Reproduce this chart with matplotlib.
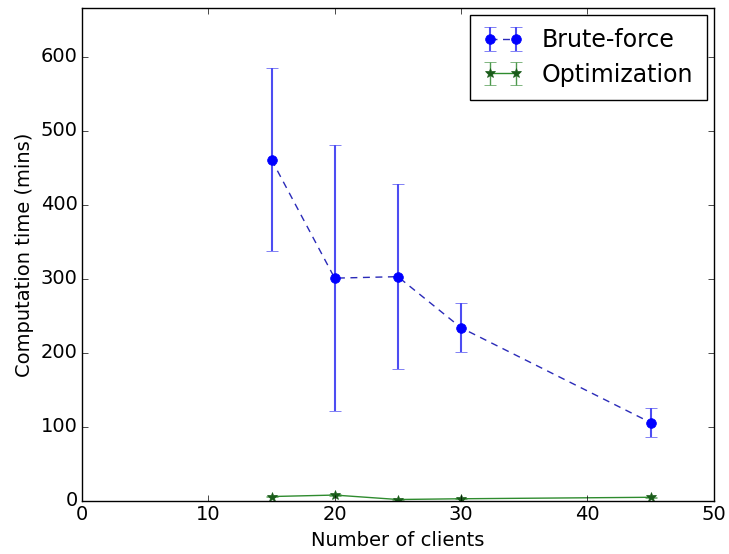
import numpy as np
import matplotlib
matplotlib.use('Agg')
from matplotlib import pyplot as plt

plt.style.use('classic')

clients = [15, 20, 25, 30, 45]
brute_mean = [461, 301, 303, 234, 106]
brute_err = [124, 180, 125, 33, 20]
opt_mean = [6, 8, 2, 3, 5]
opt_err = [1, 1, 0.5, 0.5, 0.5]

fig = plt.figure(figsize=(7.29, 5.54), dpi=100)
ax = fig.add_axes([0.1125, 0.0957, 0.8665, 0.89])

ax.errorbar(clients, brute_mean, yerr=brute_err, fmt='o--', color='#2a2ab8',
            markerfacecolor='b', markeredgecolor='b', dashes=(5, 4),
            ecolor=(0.3, 0.3, 0.95), elinewidth=1.5, capsize=4,
            markersize=7, label='Brute-force')
ax.errorbar(clients, opt_mean, yerr=opt_err, fmt='*-', color='#2e8b2e',
            markerfacecolor='#1a5c1a', markeredgecolor='#1a5c1a',
            ecolor=(0.3, 0.6, 0.3), capsize=4, markersize=7,
            label='Optimization')

ax.set_xlim(0, 50)
ax.set_ylim(0, 666)
ax.set_yticks([0, 100, 200, 300, 400, 500, 600])
ax.tick_params(labelsize=14, pad=3)
ax.set_xlabel('Number of clients', fontsize=14)
ax.set_ylabel('Computation time (mins)', fontsize=14)
ax.legend(loc='upper right', numpoints=2, fontsize=17, handlelength=1.7,
          borderpad=0.55, labelspacing=0.45, borderaxespad=0.3)

plt.savefig('out.png', dpi=100)
